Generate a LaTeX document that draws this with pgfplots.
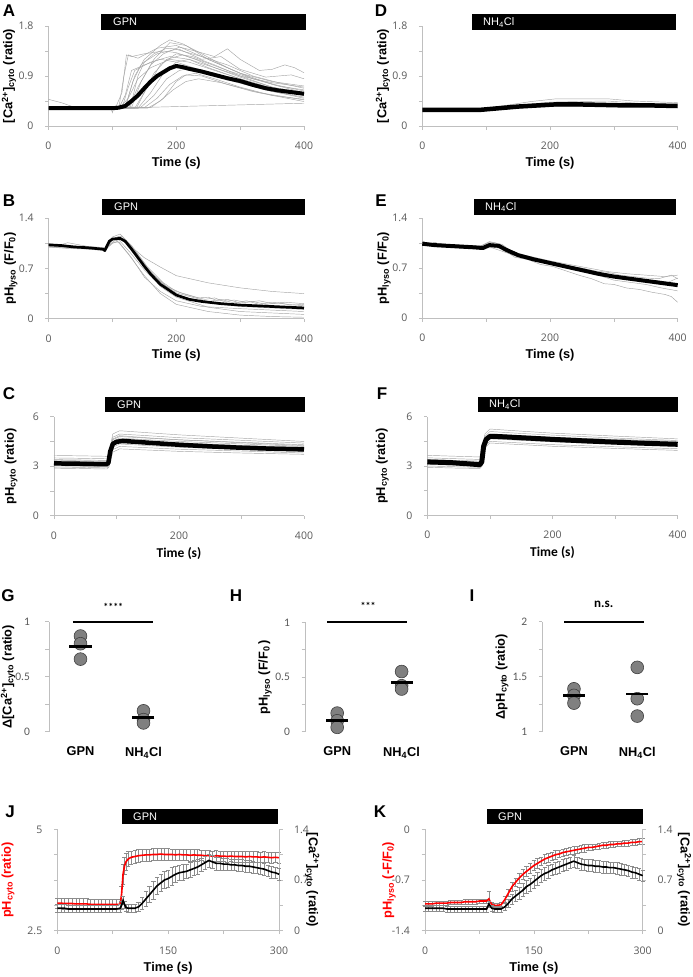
\documentclass[border=0pt]{standalone}
\usepackage{fontspec}
\setmainfont{Liberation Sans}
\newfontfamily\tickfont{Open Sans}
\newfontfamily\calfont{Carlito}
\usepackage{pgfplots}
\usepackage{pgfplotstable}
\pgfplotsset{compat=1.18}

\definecolor{axgray}{HTML}{BFBFBF}
\definecolor{tkgray}{HTML}{595959}
\definecolor{trgray}{HTML}{A6A6A6}
\definecolor{dotfill}{HTML}{808080}
\definecolor{dotdraw}{HTML}{404040}
\definecolor{ebgray}{HTML}{8C8C8C}
\definecolor{jred}{HTML}{FF0000}

\pgfplotsset{
  base/.style={
    scale only axis, clip=false,
    axis lines*=left,
    axis line style={draw=axgray, line width=0.6pt},
    tick style={draw=axgray, line width=0.6pt},
    tick align=outside,
    major tick length=3.5pt, minor tick length=3.5pt,
    /pgf/number format/assume math mode=true,
    ticklabel style={font=\tickfont\fontsize{10.5}{12}\selectfont, text=tkgray},
    xticklabel shift=9pt, yticklabel shift=8pt,
    label style={font=\bfseries\fontsize{12.8}{15}\selectfont},
    ylabel style={anchor=center},
    xlabel style={anchor=center},
  },
  trace/.style={draw=trgray, line width=0.45pt, mark=none},
  mean/.style={draw=black, line width=#1, mark=none, line join=round},
  dots/.style={only marks, mark=*, mark size=6.4pt, mark options={fill=dotfill, draw=dotdraw, line width=0.6pt}},
  mbar/.style={only marks, mark=-, mark size=11pt, mark options={line width=2.8pt, draw=black}},
  dotaxis/.style={base, xmin=-0.5, xmax=1.5,
    x axis line style={draw=none}, major x tick style={draw=none},
    xtick={0,1}, xticklabels={GPN, NH\textsubscript{4}Cl},
    xticklabel style={font=\bfseries\fontsize{12.8}{15}\selectfont, text=black},
    yticklabel style={font=\calfont\fontsize{11.5}{13}\selectfont},
    xticklabel shift=8pt},
  ebars/.style={draw=none, mark=none, error bars/.cd, y dir=both, y explicit,
    error bar style={draw=ebgray, line width=0.5pt},
    error mark options={rotate=90, draw=ebgray, mark size=2.2pt, line width=0.5pt}},
}

\pgfplotstableread{
t r re c ce
0 3.18 0.13 0.31 0.05
5 3.18 0.13 0.31 0.05
10 3.17 0.13 0.31 0.05
15 3.17 0.13 0.30 0.05
20 3.17 0.13 0.30 0.05
25 3.16 0.13 0.30 0.05
30 3.16 0.13 0.30 0.05
35 3.16 0.13 0.30 0.05
40 3.16 0.13 0.30 0.05
45 3.15 0.13 0.30 0.05
50 3.15 0.13 0.30 0.05
55 3.15 0.13 0.30 0.05
60 3.15 0.13 0.30 0.05
65 3.15 0.13 0.30 0.05
70 3.15 0.13 0.30 0.05
75 3.15 0.13 0.30 0.05
80 3.15 0.13 0.30 0.05
85 3.15 0.13 0.31 0.05
87 3.40 0.20 0.35 0.06
89 3.90 0.25 0.42 0.06
91 4.10 0.22 0.36 0.05
93 4.20 0.20 0.32 0.05
96 4.27 0.18 0.31 0.05
100 4.31 0.16 0.31 0.05
105 4.33 0.16 0.31 0.05
110 4.35 0.15 0.33 0.06
115 4.36 0.15 0.38 0.08
120 4.37 0.15 0.44 0.10
125 4.37 0.15 0.50 0.11
130 4.38 0.15 0.56 0.12
135 4.38 0.15 0.62 0.12
140 4.39 0.15 0.66 0.12
145 4.38 0.15 0.70 0.12
150 4.38 0.15 0.72 0.12
155 4.38 0.14 0.75 0.12
160 4.37 0.14 0.78 0.11
165 4.38 0.14 0.80 0.11
170 4.37 0.14 0.81 0.11
175 4.37 0.14 0.82 0.10
180 4.36 0.14 0.84 0.10
185 4.37 0.14 0.86 0.10
190 4.36 0.14 0.88 0.10
195 4.36 0.13 0.91 0.09
200 4.35 0.13 0.94 0.09
205 4.35 0.13 0.97 0.09
210 4.34 0.13 0.95 0.09
215 4.35 0.13 0.93 0.09
220 4.34 0.13 0.93 0.09
225 4.34 0.13 0.92 0.08
230 4.33 0.13 0.92 0.08
235 4.34 0.13 0.91 0.08
240 4.33 0.13 0.91 0.08
245 4.33 0.13 0.90 0.08
250 4.33 0.13 0.90 0.08
255 4.32 0.13 0.89 0.08
260 4.33 0.13 0.89 0.08
265 4.32 0.13 0.88 0.08
270 4.32 0.13 0.87 0.08
275 4.31 0.13 0.86 0.08
280 4.32 0.13 0.85 0.08
285 4.31 0.13 0.83 0.08
290 4.30 0.13 0.81 0.08
295 4.31 0.13 0.80 0.08
300 4.30 0.13 0.78 0.08
}\Jtab

\pgfplotstableread{
t r re c ce
0 -1.03 0.03 0.31 0.04
5 -1.03 0.03 0.31 0.04
10 -1.03 0.03 0.31 0.04
15 -1.02 0.03 0.31 0.04
20 -1.02 0.03 0.31 0.04
25 -1.02 0.03 0.31 0.04
30 -1.02 0.03 0.30 0.04
35 -1.01 0.03 0.30 0.04
40 -1.01 0.03 0.30 0.04
45 -1.01 0.03 0.30 0.04
50 -1.01 0.03 0.30 0.04
55 -1.00 0.03 0.30 0.04
60 -1.00 0.03 0.30 0.04
65 -1.00 0.03 0.30 0.04
70 -1.00 0.03 0.30 0.04
75 -0.99 0.03 0.30 0.04
80 -0.99 0.03 0.30 0.04
85 -0.99 0.03 0.30 0.04
88 -0.96 0.10 0.37 0.04
92 -1.04 0.03 0.31 0.04
96 -1.05 0.03 0.30 0.04
100 -1.05 0.03 0.30 0.04
105 -1.04 0.03 0.30 0.04
110 -0.97 0.04 0.33 0.05
115 -0.88 0.05 0.38 0.06
120 -0.79 0.06 0.44 0.07
125 -0.73 0.06 0.48 0.08
130 -0.67 0.07 0.52 0.08
135 -0.62 0.07 0.56 0.09
140 -0.58 0.07 0.61 0.09
145 -0.54 0.07 0.64 0.09
150 -0.50 0.07 0.68 0.09
155 -0.47 0.07 0.72 0.09
160 -0.44 0.06 0.76 0.09
165 -0.41 0.06 0.79 0.09
170 -0.39 0.06 0.81 0.09
175 -0.37 0.06 0.84 0.08
180 -0.35 0.06 0.86 0.08
185 -0.34 0.05 0.88 0.08
190 -0.32 0.05 0.90 0.08
195 -0.31 0.05 0.92 0.08
200 -0.30 0.05 0.94 0.08
205 -0.29 0.05 0.96 0.08
210 -0.28 0.05 0.94 0.08
215 -0.27 0.05 0.92 0.08
220 -0.26 0.05 0.91 0.08
225 -0.25 0.04 0.90 0.08
230 -0.25 0.04 0.90 0.08
235 -0.24 0.04 0.89 0.08
240 -0.23 0.04 0.89 0.08
245 -0.22 0.04 0.88 0.08
250 -0.22 0.04 0.88 0.08
255 -0.21 0.04 0.87 0.08
260 -0.21 0.04 0.87 0.08
265 -0.20 0.04 0.86 0.08
270 -0.20 0.04 0.85 0.08
275 -0.19 0.04 0.84 0.08
280 -0.19 0.04 0.83 0.08
285 -0.18 0.04 0.81 0.08
290 -0.18 0.04 0.80 0.08
295 -0.17 0.04 0.78 0.08
300 -0.17 0.04 0.76 0.08
}\Ktab

\begin{document}
\begin{tikzpicture}
\useasboundingbox (0pt,0pt) rectangle (693pt,-977pt);

% ---------------- A ----------------
\begin{axis}[base, at={(48.5pt,-126pt)}, anchor=south west, width=255.5pt, height=100pt,
  xmin=0, xmax=400, ymin=0, ymax=1.8,
  xtick={0,200,400}, minor xtick={100,300},
  ytick={0,0.9,1.8}, minor ytick={0.45,1.35},
  xlabel={Time (s)}, ylabel={[Ca\textsuperscript{2+}]\textsubscript{cyto} (ratio)},
  xlabel style={at={(axis description cs:0.5,-0.37)}},
  ylabel style={at={(axis description cs:-0.155,0.5)}}]
\addplot[trace] coordinates {(0,0.33)(105,0.33)(115,0.6)(122,1.28)(130,1.25)(150,1.3)(180,1.35)(200,1.32)(230,1.2)(260,1.05)(300,0.9)(350,0.78)(400,0.7)};
\addplot[trace] coordinates {(0,0.32)(110,0.32)(118,0.9)(125,1.28)(140,1.22)(170,1.4)(200,1.45)(230,1.3)(260,1.15)(300,0.95)(350,0.8)(400,0.72)};
\addplot[trace] coordinates {(0,0.32)(120,0.33)(135,0.9)(150,1.2)(175,1.45)(190,1.55)(210,1.48)(240,1.3)(280,1.05)(320,0.85)(360,0.72)(400,0.65)};
\addplot[trace] coordinates {(0,0.31)(125,0.32)(140,0.7)(160,1.1)(180,1.3)(205,1.42)(230,1.35)(260,1.25)(280,1.39)(300,1.2)(330,1.0)(350,1.02)(370,1.1)(385,1.05)(400,0.96)};
\addplot[trace] coordinates {(0,0.32)(130,0.33)(145,0.8)(165,1.2)(190,1.5)(215,1.45)(250,1.2)(300,0.95)(350,0.75)(400,0.6)};
\addplot[trace] coordinates {(0,0.32)(135,0.32)(155,0.7)(175,1.1)(200,1.3)(225,1.25)(260,1.1)(300,0.9)(350,0.7)(400,0.55)};
\addplot[trace] coordinates {(0,0.32)(140,0.32)(160,0.6)(180,0.95)(200,1.15)(220,1.2)(250,1.05)(300,0.85)(350,0.68)(400,0.56)};
\addplot[trace] coordinates {(0,0.33)(145,0.34)(165,0.55)(185,0.85)(205,1.0)(225,1.05)(260,0.95)(300,0.78)(350,0.62)(400,0.52)};
\addplot[trace] coordinates {(0,0.32)(150,0.33)(170,0.5)(190,0.75)(210,0.9)(230,0.95)(260,0.85)(300,0.7)(350,0.55)(400,0.48)};
\addplot[trace] coordinates {(0,0.32)(160,0.33)(180,0.5)(200,0.8)(215,0.92)(240,0.9)(280,0.75)(330,0.6)(400,0.47)};
\addplot[trace] coordinates {(0,0.48)(20,0.42)(40,0.34)(110,0.32)(125,0.5)(140,0.85)(160,1.05)(190,1.2)(220,1.15)(260,1.0)(300,0.85)(350,0.68)(400,0.58)};
\addplot[trace] coordinates {(0,0.32)(98,0.32)(100,0.24)(102,0.32)(400,0.41)};
\addplot[trace] coordinates {(0,0.32)(128,0.33)(140,0.9)(150,1.15)(170,1.3)(200,1.38)(240,1.25)(280,1.1)(320,0.9)(360,0.78)(400,0.68)};
\addplot[trace] coordinates {(0,0.32)(115,0.32)(125,0.7)(135,1.0)(160,1.15)(190,1.25)(220,1.2)(260,1.05)(300,0.88)(350,0.7)(400,0.6)};
\addplot[trace] coordinates {(0,0.32)(138,0.33)(150,0.6)(165,0.95)(185,1.2)(210,1.28)(245,1.15)(280,1.0)(320,0.85)(360,0.73)(400,0.63)};
\addplot[trace] coordinates {(0,0.31)(155,0.32)(175,0.45)(195,0.65)(215,0.8)(235,0.85)(270,0.78)(320,0.62)(400,0.44)};
\addplot[trace] coordinates {(0,0.32)(120,0.33)(132,0.8)(145,1.1)(165,1.3)(185,1.4)(205,1.38)(240,1.2)(270,1.25)(300,1.02)(340,0.88)(380,0.92)(400,0.85)};
\addplot[trace] coordinates {(0,0.32)(110,0.32)(120,0.55)(130,1.0)(150,1.1)(175,1.2)(200,1.15)(240,1.0)(290,0.8)(340,0.65)(400,0.5)};
\addplot[mean=4pt] coordinates {(0,0.32)(100,0.32)(110,0.33)(120,0.36)(130,0.45)(140,0.55)(150,0.68)(160,0.80)(170,0.90)(180,0.97)(190,1.04)(200,1.08)(210,1.06)(220,1.03)(240,0.98)(260,0.92)(280,0.86)(300,0.81)(320,0.74)(340,0.68)(360,0.64)(380,0.61)(400,0.58)};
\end{axis}

% ---------------- D ----------------
\begin{axis}[base, at={(422.3pt,-126pt)}, anchor=south west, width=255.4pt, height=100pt,
  xmin=0, xmax=400, ymin=0, ymax=1.8,
  xtick={0,200,400}, minor xtick={100,300},
  ytick={0,0.9,1.8}, minor ytick={0.45,1.35},
  xlabel={Time (s)}, ylabel={[Ca\textsuperscript{2+}]\textsubscript{cyto} (ratio)},
  xlabel style={at={(axis description cs:0.5,-0.37)}},
  ylabel style={at={(axis description cs:-0.154,0.5)}}]
\addplot[trace] coordinates {(0,0.3)(90,0.3)(130,0.37)(170,0.44)(210,0.49)(250,0.49)(290,0.49)(330,0.45)(400,0.42)};
\addplot[trace] coordinates {(0,0.28)(90,0.28)(140,0.36)(200,0.43)(240,0.44)(290,0.45)(350,0.40)(400,0.38)};
\addplot[trace] coordinates {(0,0.27)(95,0.27)(150,0.32)(200,0.35)(300,0.35)(400,0.34)};
\addplot[trace] coordinates {(0,0.3)(90,0.3)(150,0.37)(220,0.41)(300,0.39)(400,0.37)};
\addplot[mean=4.5pt] coordinates {(0,0.29)(90,0.29)(100,0.30)(120,0.32)(150,0.35)(180,0.37)(210,0.39)(240,0.39)(280,0.38)(320,0.37)(360,0.37)(400,0.36)};
\end{axis}

% ---------------- B ----------------
\begin{axis}[base, at={(48.6pt,-318.7pt)}, anchor=south west, width=255.4pt, height=100.4pt,
  xmin=0, xmax=400, ymin=0, ymax=1.4,
  xtick={0,200,400}, minor xtick={100,300},
  ytick={0,0.7,1.4}, minor ytick={0.35,1.05},
  xlabel={Time (s)}, ylabel={pH\textsubscript{lyso} (F/F\textsubscript{0})},
  xlabel style={at={(axis description cs:0.5,-0.36)}},
  ylabel style={at={(axis description cs:-0.148,0.5)}}]
\addplot[trace] coordinates {(0,1.03)(30,1.01)(60,1.0)(88,0.98)(90,0.96)(100,1.1)(112,1.12)(130,1.0)(150,0.85)(175,0.72)(200,0.6)(250,0.5)(300,0.43)(350,0.38)(400,0.35)};
\addplot[trace] coordinates {(0,1.0)(30,0.99)(60,0.98)(88,0.96)(100,1.05)(108,1.08)(125,0.9)(150,0.6)(175,0.35)(200,0.2)(250,0.1)(300,0.05)(350,0.03)(400,0.02)};
\addplot[trace] coordinates {(0,1.02)(30,1.0)(60,0.99)(88,0.97)(100,1.1)(110,1.15)(130,0.98)(150,0.72)(175,0.45)(200,0.3)(250,0.16)(300,0.1)(350,0.08)(400,0.06)};
\addplot[trace] coordinates {(0,1.05)(15,1.02)(30,1.06)(60,1.01)(88,0.99)(100,1.14)(112,1.18)(130,1.02)(155,0.72)(180,0.5)(200,0.38)(220,0.33)(235,0.29)(250,0.3)(265,0.25)(280,0.27)(300,0.22)(320,0.24)(340,0.2)(360,0.22)(380,0.19)(400,0.2)};
\addplot[trace] coordinates {(0,1.01)(30,1.0)(60,0.98)(88,0.97)(100,1.12)(115,1.15)(135,0.95)(160,0.65)(185,0.45)(210,0.35)(230,0.3)(245,0.27)(260,0.29)(275,0.24)(290,0.26)(310,0.23)(330,0.25)(350,0.21)(370,0.23)(400,0.21)};
\addplot[trace] coordinates {(0,1.04)(30,1.02)(60,1.0)(88,0.98)(102,1.08)(110,1.1)(128,0.92)(150,0.68)(170,0.5)(200,0.33)(250,0.22)(300,0.17)(350,0.15)(400,0.13)};
\addplot[trace] coordinates {(0,1.0)(30,0.98)(60,0.97)(88,0.95)(100,1.06)(110,1.07)(130,0.85)(150,0.58)(175,0.38)(200,0.25)(240,0.17)(300,0.14)(350,0.12)(400,0.1)};
\addplot[trace] coordinates {(0,1.03)(30,1.02)(60,1.0)(88,0.98)(100,1.12)(112,1.14)(132,0.98)(155,0.7)(180,0.48)(200,0.36)(225,0.3)(250,0.24)(270,0.27)(290,0.22)(310,0.25)(330,0.2)(350,0.23)(375,0.2)(400,0.18)};
\addplot[mean=2.7pt] coordinates {(0,1.03)(20,1.02)(40,1.0)(60,0.99)(85,0.97)(88,0.95)(95,1.08)(100,1.11)(112,1.12)(120,1.08)(130,0.97)(140,0.85)(150,0.73)(160,0.62)(175,0.48)(190,0.39)(200,0.33)(220,0.27)(240,0.24)(270,0.21)(300,0.19)(350,0.17)(400,0.15)};
\end{axis}

% ---------------- E ----------------
\begin{axis}[base, at={(422.3pt,-318pt)}, anchor=south west, width=255.4pt, height=100pt,
  xmin=0, xmax=400, ymin=0, ymax=1.4,
  xtick={0,200,400}, minor xtick={100,300},
  ytick={0,0.7,1.4}, minor ytick={0.35,1.05},
  xlabel={Time (s)}, ylabel={pH\textsubscript{lyso} (F/F\textsubscript{0})},
  xlabel style={at={(axis description cs:0.5,-0.37)}},
  ylabel style={at={(axis description cs:-0.15,0.5)}}]
\addplot[trace] coordinates {(0,1.08)(10,1.03)(20,1.06)(35,1.0)(50,1.03)(70,0.98)(90,1.0)(105,1.06)(115,1.05)(130,0.94)(150,0.9)(170,0.82)(190,0.8)(210,0.74)(230,0.72)(250,0.7)(270,0.66)(290,0.64)(310,0.6)(330,0.58)(350,0.56)(370,0.55)(390,0.6)(400,0.55)};
\addplot[trace] coordinates {(0,1.02)(30,1.0)(60,0.98)(90,0.97)(105,1.0)(125,0.97)(145,0.85)(165,0.82)(185,0.75)(205,0.72)(225,0.66)(245,0.6)(265,0.55)(285,0.48)(300,0.47)(320,0.42)(340,0.4)(360,0.36)(380,0.33)(390,0.3)(400,0.22)};
\addplot[trace] coordinates {(0,1.05)(15,1.02)(30,1.04)(60,1.01)(90,1.0)(105,1.07)(125,1.03)(145,0.9)(160,0.86)(175,0.83)(190,0.79)(205,0.76)(220,0.73)(235,0.7)(250,0.69)(265,0.66)(280,0.63)(295,0.6)(310,0.59)(325,0.56)(340,0.55)(355,0.52)(370,0.52)(385,0.5)(400,0.56)};
\addplot[trace] coordinates {(0,1.03)(30,1.04)(60,0.99)(90,0.99)(110,0.98)(130,0.92)(150,0.86)(175,0.8)(200,0.76)(225,0.7)(250,0.66)(275,0.6)(300,0.53)(325,0.5)(350,0.47)(375,0.42)(400,0.38)};
\addplot[trace] coordinates {(0,1.06)(30,1.03)(60,1.02)(90,1.01)(108,1.05)(125,1.0)(150,0.9)(175,0.85)(200,0.8)(230,0.75)(260,0.7)(290,0.65)(320,0.62)(350,0.6)(380,0.58)(400,0.6)};
\addplot[mean=4pt] coordinates {(0,1.04)(20,1.02)(40,1.01)(60,1.0)(80,0.99)(95,0.98)(105,1.02)(120,1.01)(130,0.96)(150,0.88)(175,0.82)(200,0.77)(225,0.72)(250,0.67)(275,0.62)(300,0.58)(325,0.55)(350,0.52)(375,0.49)(400,0.46)};
\end{axis}

% ---------------- C ----------------
\begin{axis}[base, at={(54pt,-515.7pt)}, anchor=south west, width=250pt, height=99pt,
  xmin=0, xmax=400, ymin=0, ymax=6,
  xtick={0,200,400}, minor xtick={100,300},
  ytick={0,3,6}, minor ytick={1.5,4.5},
  xlabel={Time (s)}, ylabel={pH\textsubscript{cyto} (ratio)},
  xlabel style={font=\calfont\bfseries\fontsize{13.5}{15}\selectfont, at={(axis description cs:0.5,-0.38)}},
  ylabel style={at={(axis description cs:-0.172,0.5)}}]
\addplot[trace] coordinates {(0,3.65)(40,3.63)(85,3.6)(88,3.75)(94,4.95)(105,5.15)(150,5.03)(200,4.9)(300,4.7)(400,4.5)};
\addplot[trace] coordinates {(0,3.5)(40,3.48)(85,3.45)(88,3.6)(94,4.75)(105,4.95)(150,4.85)(200,4.73)(300,4.57)(400,4.4)};
\addplot[trace] coordinates {(0,3.4)(40,3.38)(85,3.35)(88,3.5)(94,4.6)(105,4.8)(150,4.7)(200,4.6)(300,4.45)(400,4.3)};
\addplot[trace] coordinates {(0,3.3)(40,3.28)(85,3.25)(88,3.4)(94,4.5)(105,4.7)(150,4.6)(200,4.5)(300,4.35)(400,4.2)};
\addplot[trace] coordinates {(0,3.22)(40,3.2)(85,3.17)(88,3.3)(94,4.42)(105,4.62)(150,4.52)(200,4.42)(300,4.26)(400,4.12)};
\addplot[trace] coordinates {(0,3.1)(40,3.08)(85,3.05)(88,3.2)(94,4.25)(105,4.45)(150,4.35)(200,4.25)(300,4.1)(400,3.95)};
\addplot[trace] coordinates {(0,3.02)(40,3.0)(85,2.97)(88,3.1)(94,4.15)(105,4.35)(150,4.25)(200,4.15)(300,4.02)(400,3.9)};
\addplot[trace] coordinates {(0,2.95)(40,2.93)(85,2.9)(88,3.05)(94,4.0)(105,4.2)(150,4.12)(200,4.03)(300,3.92)(400,3.8)};
\addplot[trace] coordinates {(0,2.88)(40,2.86)(85,2.83)(88,2.95)(94,3.85)(105,4.05)(150,3.98)(200,3.9)(300,3.8)(400,3.72)};
\addplot[trace] coordinates {(0,3.26)(40,3.24)(85,3.21)(88,3.35)(94,4.35)(105,4.55)(150,4.46)(200,4.37)(300,4.25)(400,4.15)};
\addplot[trace] coordinates {(0,3.35)(40,3.33)(85,3.3)(88,3.45)(94,4.65)(105,4.85)(150,4.72)(200,4.6)(300,4.42)(400,4.25)};
\addplot[trace] coordinates {(0,3.15)(40,3.13)(85,3.1)(88,3.25)(94,4.3)(105,4.5)(150,4.42)(200,4.32)(300,4.18)(400,4.05)};
\addplot[mean=4.5pt] coordinates {(0,3.17)(40,3.15)(84,3.12)(87,3.2)(90,3.9)(94,4.35)(100,4.48)(110,4.53)(130,4.48)(160,4.4)(200,4.3)(250,4.2)(300,4.12)(350,4.06)(400,4.02)};
\end{axis}

% ---------------- F ----------------
\begin{axis}[base, at={(427.3pt,-515.3pt)}, anchor=south west, width=250.4pt, height=98.6pt,
  xmin=0, xmax=400, ymin=0, ymax=6,
  xtick={0,200,400}, minor xtick={100,300},
  ytick={0,3,6}, minor ytick={1.5,4.5},
  xlabel={Time (s)}, ylabel={pH\textsubscript{cyto} (ratio)},
  xlabel style={font=\calfont\bfseries\fontsize{13.5}{15}\selectfont, at={(axis description cs:0.5,-0.38)}},
  ylabel style={at={(axis description cs:-0.18,0.5)}}]
\addplot[trace] coordinates {(0,3.65)(40,3.6)(84,3.55)(87,3.7)(92,4.95)(100,5.25)(150,5.12)(200,5.0)(300,4.82)(400,4.65)};
\addplot[trace] coordinates {(0,3.5)(40,3.45)(84,3.4)(87,3.55)(92,4.8)(100,5.1)(150,4.98)(200,4.88)(300,4.7)(400,4.55)};
\addplot[trace] coordinates {(0,3.4)(40,3.35)(84,3.3)(87,3.45)(92,4.65)(100,4.95)(150,4.85)(200,4.75)(300,4.6)(400,4.45)};
\addplot[trace] coordinates {(0,3.3)(40,3.25)(84,3.2)(87,3.35)(92,4.55)(100,4.85)(150,4.76)(200,4.67)(300,4.53)(400,4.4)};
\addplot[trace] coordinates {(0,3.2)(40,3.15)(84,3.1)(87,3.25)(92,4.45)(100,4.75)(150,4.66)(200,4.57)(300,4.43)(400,4.3)};
\addplot[trace] coordinates {(0,3.1)(40,3.05)(84,3.0)(87,3.15)(92,4.35)(100,4.65)(150,4.56)(200,4.47)(300,4.33)(400,4.2)};
\addplot[trace] coordinates {(0,3.0)(40,2.96)(84,2.92)(87,3.05)(92,4.2)(100,4.5)(150,4.4)(200,4.3)(300,4.17)(400,4.05)};
\addplot[trace] coordinates {(0,2.92)(40,2.88)(84,2.85)(87,2.98)(92,4.1)(100,4.4)(150,4.3)(200,4.2)(300,4.07)(400,3.95)};
\addplot[trace] coordinates {(0,3.35)(40,3.3)(84,3.25)(87,3.4)(92,4.6)(100,4.9)(150,4.82)(200,4.74)(300,4.62)(400,4.5)};
\addplot[trace] coordinates {(0,3.15)(40,3.1)(84,3.05)(87,3.2)(92,4.4)(100,4.7)(150,4.6)(200,4.5)(300,4.37)(400,4.25)};
\addplot[mean=5pt] coordinates {(0,3.25)(40,3.2)(84,3.08)(87,3.25)(90,4.2)(94,4.62)(100,4.8)(110,4.8)(150,4.72)(200,4.62)(250,4.53)(300,4.45)(350,4.38)(400,4.32)};
\end{axis}

% ---------------- G ----------------
\begin{axis}[dotaxis, at={(49pt,-731.7pt)}, anchor=south west, width=126pt, height=110pt,
  ymin=0, ymax=1, ytick={0,0.5,1}, minor ytick={0.25,0.75}, yticklabel shift=12pt,
  ylabel={Δ[Ca\textsuperscript{2+}]\textsubscript{cyto} (ratio)},
  ylabel style={at={(axis description cs:-0.325,0.5)}}]
\addplot[dots] coordinates {(0,0.87)(0,0.80)(0,0.66)(1,0.19)(1,0.11)(1,0.08)};
\addplot[mbar] coordinates {(0,0.777)(1,0.127)};
\addplot[black, line width=2pt, mark=none] coordinates {(-0.12,1)(1.15,1)};
\node[font=\calfont\bfseries\fontsize{10}{11}\selectfont] at (axis cs:0.52,1) [yshift=15pt] {****};
\end{axis}

% ---------------- H ----------------
\begin{axis}[dotaxis, at={(305pt,-731.7pt)}, anchor=south west, width=128.8pt, height=109.4pt,
  ymin=0, ymax=1, ytick={0,0.5,1}, minor ytick={0.25,0.75},
  ylabel={pH\textsubscript{lyso} (F/F\textsubscript{0}\,)},
  ylabel style={at={(axis description cs:-0.31,0.5)}}]
\addplot[dots] coordinates {(0,0.17)(0,0.10)(0,0.04)(1,0.55)(1,0.42)(1,0.39)};
\addplot[mbar] coordinates {(0,0.103)(1,0.453)};
\addplot[black, line width=2pt, mark=none] coordinates {(-0.155,1)(1.087,1)};
\node[font=\calfont\bfseries\fontsize{10}{11}\selectfont] at (axis cs:0.48,1) [yshift=16pt] {***};
\end{axis}

% ---------------- I ----------------
\begin{axis}[dotaxis, at={(542.3pt,-731.7pt)}, anchor=south west, width=126.6pt, height=110pt,
  ymin=1, ymax=2, ytick={1,1.5,2}, minor ytick={1.25,1.75},
  ylabel={ΔpH\textsubscript{cyto} (ratio)},
  ylabel style={at={(axis description cs:-0.318,0.5)}}]
\addplot[dots] coordinates {(0,1.39)(0,1.33)(0,1.26)(1,1.585)(1,1.30)(1,1.142)};
\addplot[mbar] coordinates {(0,1.327)(1,1.343)};
\addplot[black, line width=2pt, mark=none] coordinates {(-0.153,2)(1.11,2)};
\node[font=\calfont\bfseries\fontsize{13}{14}\selectfont] at (axis cs:0.47,2) [yshift=17pt] {n.s.};
\end{axis}

% ---------------- J ----------------
\begin{axis}[base, at={(57.3pt,-930.7pt)}, anchor=south west, width=221.7pt, height=101.4pt,
  xmin=0, xmax=300, ymin=2.5, ymax=5,
  xtick={0,150,300}, minor xtick={75,225},
  ytick={2.5,5}, minor ytick={3.125,3.75,4.375},
  xlabel={Time (s)}, ylabel={pH\textsubscript{cyto} (ratio)},
  xlabel style={at={(axis description cs:0.5,-0.37)}},
  ylabel style={text=jred, at={(axis description cs:-0.222,0.5)}}]
\addplot[ebars] table[x=t, y=r, y error=re] {\Jtab};
\addplot[jred, line width=1.6pt, mark=none] table[x=t, y=r] {\Jtab};
\end{axis}
\begin{axis}[base, at={(57.3pt,-930.7pt)}, anchor=south west, width=221.7pt, height=101.4pt,
  axis x line=none, axis y line*=right,
  xmin=0, xmax=300, ymin=0, ymax=1.4,
  ytick={0,0.7,1.4}, minor ytick={0.35,1.05}]
\addplot[ebars] table[x=t, y=c, y error=ce] {\Jtab};
\addplot[black, line width=1.6pt, mark=none] table[x=t, y=c] {\Jtab};
\node[rotate=-90, anchor=center, font=\bfseries\fontsize{12.8}{15}\selectfont] at (rel axis cs:1.15,0.5) {[Ca\textsuperscript{2+}]\textsubscript{cyto} (ratio)};
\end{axis}

% ---------------- K ----------------
\begin{axis}[base, at={(425pt,-930.7pt)}, anchor=south west, width=217.7pt, height=101.4pt,
  xmin=0, xmax=300, ymin=-1.4, ymax=0,
  xtick={0,150,300}, minor xtick={75,225},
  ytick={-1.4,-0.7,0}, minor ytick={-1.05,-0.35},
  xlabel={Time (s)}, ylabel={pH\textsubscript{lyso} (-F/F\textsubscript{0})},
  xlabel style={at={(axis description cs:0.5,-0.37)}},
  ylabel style={text=jred, at={(axis description cs:-0.165,0.5)}}]
\addplot[ebars] table[x=t, y=r, y error=re] {\Ktab};
\addplot[jred, line width=1.6pt, mark=none] table[x=t, y=r] {\Ktab};
\end{axis}
\begin{axis}[base, at={(425pt,-930.7pt)}, anchor=south west, width=217.7pt, height=101.4pt,
  axis x line=none, axis y line*=right,
  xmin=0, xmax=300, ymin=0, ymax=1.4,
  ytick={0,0.7,1.4}, minor ytick={0.35,1.05}]
\addplot[ebars] table[x=t, y=c, y error=ce] {\Ktab};
\addplot[black, line width=1.6pt, mark=none] table[x=t, y=c] {\Ktab};
\node[rotate=-90, anchor=center, font=\bfseries\fontsize{12.8}{15}\selectfont] at (rel axis cs:1.19,0.5) {[Ca\textsuperscript{2+}]\textsubscript{cyto} (ratio)};
\end{axis}

% ---------------- treatment bars ----------------
\tikzset{barlbl/.style={anchor=west, text=white, inner sep=0pt, font=\fontsize{11}{12}\selectfont}}
\fill[black] (101pt,-14.3pt) rectangle (305.7pt,-30pt);
\node[barlbl] at (113pt,-22.2pt) {GPN};
\fill[black] (472pt,-14.3pt) rectangle (676pt,-30pt);
\node[barlbl] at (483pt,-22.2pt) {NH\textsubscript{4}Cl};
\fill[black] (102pt,-199pt) rectangle (305pt,-215pt);
\node[barlbl] at (114pt,-207pt) {GPN};
\fill[black] (474pt,-199pt) rectangle (675.7pt,-215pt);
\node[barlbl] at (485pt,-207pt) {NH\textsubscript{4}Cl};
\fill[black] (105.3pt,-396.7pt) rectangle (305.3pt,-412.3pt);
\node[barlbl] at (117pt,-404.5pt) {GPN};
\fill[black] (477.7pt,-396.7pt) rectangle (677.7pt,-412.3pt);
\node[barlbl] at (489pt,-404.5pt) {NH\textsubscript{4}Cl};
\fill[black] (121.7pt,-809.3pt) rectangle (277.7pt,-824.3pt);
\node[barlbl] at (133pt,-816.8pt) {GPN};
\fill[black] (486.7pt,-809.3pt) rectangle (642.7pt,-824.3pt);
\node[barlbl] at (498pt,-816.8pt) {GPN};

% ---------------- panel letters ----------------
\tikzset{plet/.style={font=\bfseries\fontsize{17}{18}\selectfont, inner sep=0pt}}
\node[plet] at (9pt,-11pt) {A};
\node[plet] at (381pt,-11pt) {D};
\node[plet] at (9pt,-201pt) {B};
\node[plet] at (381pt,-201pt) {E};
\node[plet] at (9pt,-394pt) {C};
\node[plet] at (382pt,-394pt) {F};
\node[plet] at (8pt,-596pt) {G};
\node[plet] at (236pt,-596pt) {H};
\node[plet] at (472pt,-596pt) {I};
\node[plet] at (10pt,-812pt) {J};
\node[plet] at (380pt,-812pt) {K};
\end{tikzpicture}
\end{document}
